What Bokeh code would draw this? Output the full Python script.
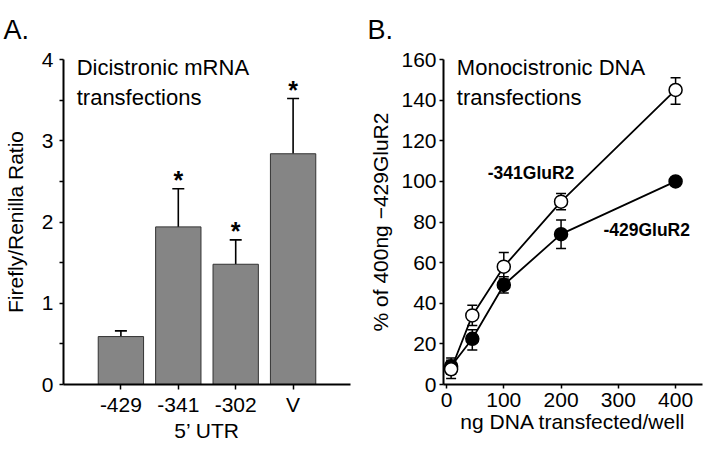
from bokeh.plotting import figure
from bokeh.layouts import row
from bokeh.models import Range1d, FixedTicker, Whisker, TeeHead, ColumnDataSource, Label
from bokeh.core.properties import value
from bokeh.embed import file_html
from bokeh.resources import INLINE

# ---------- Panel A data ----------
utr_labels = ["-429", "-341", "-302", "V"]
utr_pos = [1, 2, 3, 4]
ratio_mean = [0.59, 1.94, 1.48, 2.84]
ratio_upper = [0.66, 2.41, 1.78, 3.52]
ratio_sig = ["", "*", "*", "*"]

# ---------- Panel B data ----------
ng_dna = [8, 45, 100, 200, 400]
glur341_mean = [7.5, 34, 58, 90, 145]
glur341_lo = [3, 29, 52, 86, 138]
glur341_hi = [12, 39, 65, 94, 151]
ng_dna_429 = [8, 45, 100, 200, 400]
glur429_mean = [9, 22.5, 49, 74, 100]
glur429_lo = [5, 17, 45, 67, 100]
glur429_hi = [13, 27, 53, 81, 100]

FONT = "Liberation Sans"
TICK_FS = "21px"
LAB_FS = "21px"

def style_axis(ax, tick_out, minor_out=0):
    ax.axis_line_width = 2
    ax.axis_line_color = "black"
    ax.major_tick_line_color = "black"
    ax.major_tick_line_width = 1.5
    ax.minor_tick_line_color = "black"
    ax.minor_tick_line_width = 1.5
    ax.major_tick_in = 0
    ax.major_tick_out = tick_out
    ax.minor_tick_in = 0
    ax.minor_tick_out = minor_out
    ax.major_label_text_font = FONT
    ax.major_label_text_font_size = TICK_FS
    ax.major_label_text_color = "black"
    ax.axis_label_text_font = FONT
    ax.axis_label_text_font_size = LAB_FS
    ax.axis_label_text_font_style = "normal"
    ax.axis_label_text_color = "black"

def style_title(p, txt, off):
    p.title.text = txt
    p.title.align = "left"
    p.title.offset = off
    p.title.vertical_align = "top"
    p.title.standoff = 25
    p.title.text_font = FONT
    p.title.text_font_size = "27px"
    p.title.text_font_style = "normal"
    p.title.text_color = "black"

# ---------- Panel A ----------
pa = figure(width=360, height=444, output_backend="svg", toolbar_location=None,
            x_range=Range1d(0, 5), y_range=Range1d(0, 4),
            min_border_left=60, min_border_right=10, min_border_top=59, min_border_bottom=60)
pa.outline_line_color = None
pa.xgrid.visible = False
pa.ygrid.visible = False
style_title(pa, "A.", -60)

src_a = ColumnDataSource(dict(x=utr_pos, top=ratio_mean, upper=ratio_upper, sig=ratio_sig))
pa.vbar(x="x", top="top", bottom=0, width=0.79, source=src_a,
        fill_color="#858585", line_color="#333333", line_width=1)
wa = Whisker(base="x", upper="upper", lower="top", source=src_a, dimension="height",
             line_color="black", line_width=1.6,
             upper_head=TeeHead(size=12, line_color="black", line_width=1.6), lower_head=None)
pa.add_layout(wa)
pa.text(x="x", y="upper", text="sig", source=src_a, text_align="center", text_baseline="bottom",
        y_offset=5, text_font=value(FONT), text_font_size="25px", text_font_style="bold",
        text_color="black")

pa.xaxis.ticker = FixedTicker(ticks=utr_pos)
pa.xaxis.major_label_overrides = {p: l for p, l in zip(utr_pos, utr_labels)}
pa.xaxis.axis_label = "5\u2019 UTR"
pa.yaxis.ticker = FixedTicker(ticks=[0, 1, 2, 3, 4], minor_ticks=[0.5, 1.5, 2.5, 3.5])
pa.yaxis.axis_label = "Firefly/Renilla Ratio"
style_axis(pa.xaxis, 5)
style_axis(pa.yaxis, 4, 4)
pa.xaxis.major_label_standoff = 3
pa.xaxis.axis_label_standoff = 0
pa.yaxis.major_label_standoff = 6
pa.yaxis.axis_label_standoff = 12

pa.add_layout(Label(x=0.23, y=4.05, text="Dicistronic mRNA\ntransfections",
                    text_font=FONT, text_font_size="22px", text_color="black", text_baseline="top"))

# ---------- Panel B ----------
pb = figure(width=344, height=444, output_backend="svg", toolbar_location=None,
            x_range=Range1d(-5.3, 447), y_range=Range1d(0, 160),
            min_border_left=83, min_border_right=2, min_border_top=59, min_border_bottom=60)
pb.outline_line_color = None
pb.xgrid.visible = False
pb.ygrid.visible = False
style_title(pb, "B.", -76)

src_341 = ColumnDataSource(dict(x=ng_dna, y=glur341_mean, lo=glur341_lo, hi=glur341_hi))
src_429 = ColumnDataSource(dict(x=ng_dna_429, y=glur429_mean, lo=glur429_lo, hi=glur429_hi))

pb.line(x="x", y="y", source=src_429, line_color="black", line_width=1.8)
pb.line(x="x", y="y", source=src_341, line_color="black", line_width=1.8)
for s in (src_429, src_341):
    pb.add_layout(Whisker(base="x", upper="hi", lower="lo", source=s, dimension="height",
                          line_color="black", line_width=1.5,
                          upper_head=TeeHead(size=10, line_color="black", line_width=1.5),
                          lower_head=TeeHead(size=10, line_color="black", line_width=1.5)))
pb.scatter(x="x", y="y", source=src_429, size=13, marker="circle",
           fill_color="black", line_color="black", line_width=1.5)
pb.scatter(x="x", y="y", source=src_341, size=13, marker="circle",
           fill_color="white", line_color="black", line_width=1.5)

pb.xaxis.ticker = FixedTicker(ticks=[0, 100, 200, 300, 400], minor_ticks=[])
pb.yaxis.ticker = FixedTicker(ticks=list(range(0, 161, 20)), minor_ticks=[])
pb.xaxis.axis_label = "ng DNA transfected/well"
pb.yaxis.axis_label = "% of 400ng \u2212429GluR2"
style_axis(pb.xaxis, 4)
style_axis(pb.yaxis, 4)
pb.xaxis.major_label_standoff = 4
pb.xaxis.axis_label_standoff = 0
pb.yaxis.major_label_standoff = 3
pb.yaxis.axis_label_standoff = 6

pb.add_layout(Label(x=18, y=162, text="Monocistronic DNA\ntransfections",
                    text_font=FONT, text_font_size="22px", text_color="black", text_baseline="top"))
pb.add_layout(Label(x=72, y=104, text="-341GluR2", text_font=FONT, text_font_size="17.5px",
                    text_font_style="bold", text_color="black", text_baseline="middle"))
pb.add_layout(Label(x=274, y=76, text="-429GluR2", text_font=FONT, text_font_size="17.5px",
                    text_font_style="bold", text_color="black", text_baseline="middle"))

layout = row(pa, pb)
open("out.html", "w").write(file_html(layout, INLINE))
